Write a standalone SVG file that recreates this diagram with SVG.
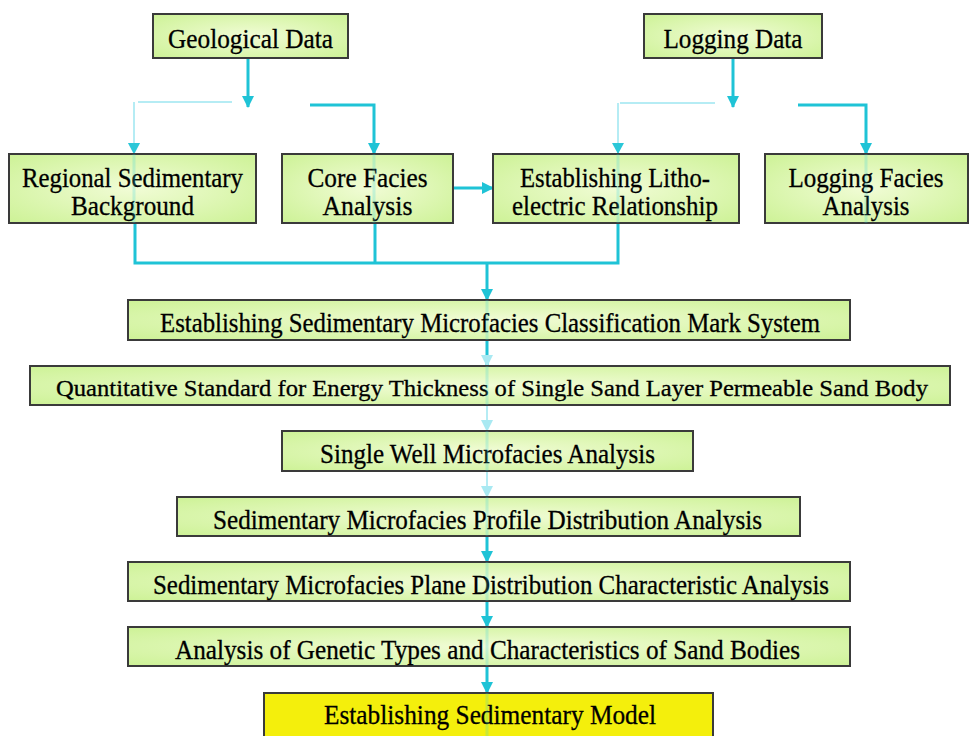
<svg xmlns="http://www.w3.org/2000/svg" width="974" height="736" viewBox="0 0 974 736">
<defs>
<radialGradient id="gf" cx="50%" cy="50%" r="70%">
<stop offset="0" stop-color="#f1fcd6"/>
<stop offset="1" stop-color="#cdf296"/>
</radialGradient>
<marker id="ah" viewBox="0 0 12 12" refX="11" refY="6" markerWidth="12" markerHeight="12" markerUnits="userSpaceOnUse" orient="auto">
<path d="M0,0 L12,6 L0,12 z" fill="#1fc3d6"/>
</marker>
<marker id="ahf" viewBox="0 0 12 12" refX="11" refY="6" markerWidth="12" markerHeight="12" markerUnits="userSpaceOnUse" orient="auto">
<path d="M0,0 L12,6 L0,12 z" fill="#a9e9f2"/>
</marker>
<style>
.box{fill:url(#gf);stroke:#3a3a3a;stroke-width:2}
.ybox{fill:#f4ef0c;stroke:#3a3a3a;stroke-width:2}
.t{font-family:"Liberation Serif","Times New Roman",serif;fill:#000;stroke:#000;stroke-width:0.3;text-anchor:middle}
.big{font-size:28px}
.mid{font-size:27px}
.sm{font-size:24px}
.c{fill:none;stroke:#1fc3d6;stroke-width:3}
.cf{fill:none;stroke:#b5ecf4;stroke-width:2}
.thru{fill:none;stroke:#2fd0e0;stroke-width:3;opacity:0.22}
</style>
</defs>
<rect width="974" height="736" fill="#ffffff"/>

<g id="connectors">
<path class="c" d="M248,58 V107" marker-end="url(#ah)"/>
<path class="cf" d="M138,102 H232"/>
<path class="c" d="M310,105 H374 V154" marker-end="url(#ah)"/>
<path class="cf" d="M134,102 V154" marker-end="url(#ahf)"/>
<path d="M128,143 L140,143 L134,154 z" fill="#2bc7d8"/>
<path class="c" d="M733,58 V107" marker-end="url(#ah)"/>
<path class="cf" d="M620,103 H715"/>
<path class="c" d="M798,105 H866 V154" marker-end="url(#ah)"/>
<path class="cf" d="M618,103 V154"/>
<path d="M612,143 L624,143 L618,154 z" fill="#2bc7d8"/>
<path class="c" d="M453,188 H493" marker-end="url(#ah)"/>
<path class="c" d="M135,223 V263 H618 V223"/>
<path class="c" d="M375,223 V263"/>
<path class="c" d="M487,263 V300" marker-end="url(#ah)"/>
<path class="c" d="M487,340 V366" marker-end="url(#ahf)" stroke="#7fdbe8"/>
<path class="cf" d="M487,405 V431" marker-end="url(#ahf)"/>
<path class="cf" d="M487,471 V497" marker-end="url(#ahf)"/>
<path class="c" d="M487,536 V562" marker-end="url(#ah)"/>
<path class="c" d="M487,601 V627" marker-end="url(#ah)"/>
<path class="c" d="M487,666 V693" marker-end="url(#ah)"/>
</g>

<g id="geological-data"><rect class="box" x="153" y="14" width="195" height="44"/><text class="t big" x="250.5" y="48" textLength="165" lengthAdjust="spacingAndGlyphs">Geological Data</text></g>
<g id="logging-data"><rect class="box" x="644" y="14" width="178" height="44"/><text class="t big" x="733" y="48" textLength="139" lengthAdjust="spacingAndGlyphs">Logging Data</text></g>

<g id="regional"><rect class="box" x="9" y="154" width="247" height="69"/><text class="t big" x="132.5" y="187" textLength="221" lengthAdjust="spacingAndGlyphs">Regional Sedimentary</text><text class="t big" x="132.5" y="215" textLength="123" lengthAdjust="spacingAndGlyphs">Background</text></g>
<g id="core-facies"><rect class="box" x="282" y="154" width="171" height="69"/><text class="t big" x="367.5" y="187" textLength="120" lengthAdjust="spacingAndGlyphs">Core Facies</text><text class="t big" x="367.5" y="215" textLength="90" lengthAdjust="spacingAndGlyphs">Analysis</text></g>
<g id="litho-electric"><rect class="box" x="493" y="154" width="246" height="69"/><text class="t big" x="615" y="187" textLength="190" lengthAdjust="spacingAndGlyphs">Establishing Litho-</text><text class="t big" x="615" y="215" textLength="206" lengthAdjust="spacingAndGlyphs">electric Relationship</text></g>
<g id="logging-facies"><rect class="box" x="765" y="154" width="203" height="69"/><text class="t big" x="866" y="187" textLength="155" lengthAdjust="spacingAndGlyphs">Logging Facies</text><text class="t big" x="866" y="215" textLength="87" lengthAdjust="spacingAndGlyphs">Analysis</text></g>

<g id="classification"><rect class="box" x="128" y="300" width="722" height="40"/><text class="t mid" x="490" y="332" textLength="660" lengthAdjust="spacingAndGlyphs">Establishing Sedimentary Microfacies Classification Mark System</text></g>
<g id="quantitative"><rect class="box" x="30" y="366" width="920" height="39"/><text class="t sm" x="492" y="396" textLength="872" lengthAdjust="spacingAndGlyphs">Quantitative Standard for Energy Thickness of Single Sand Layer Permeable Sand Body</text></g>
<g id="single-well"><rect class="box" x="282" y="431" width="411" height="40"/><text class="t mid" x="487.5" y="463" textLength="335" lengthAdjust="spacingAndGlyphs">Single Well Microfacies Analysis</text></g>
<g id="profile"><rect class="box" x="177" y="497" width="623" height="39"/><text class="t mid" x="487.5" y="529" textLength="549" lengthAdjust="spacingAndGlyphs">Sedimentary Microfacies Profile Distribution Analysis</text></g>
<g id="plane"><rect class="box" x="128" y="562" width="722" height="39"/><text class="t mid" x="491" y="594" textLength="676" lengthAdjust="spacingAndGlyphs">Sedimentary Microfacies Plane Distribution Characteristic Analysis</text></g>
<g id="genetic"><rect class="box" x="128" y="627" width="722" height="39"/><text class="t mid" x="487.5" y="659" textLength="625" lengthAdjust="spacingAndGlyphs">Analysis of Genetic Types and Characteristics of Sand Bodies</text></g>
<g id="model"><rect class="ybox" x="264" y="693" width="449" height="44"/><text class="t mid" x="490" y="724" textLength="332" lengthAdjust="spacingAndGlyphs">Establishing Sedimentary Model</text></g>

<g id="through-lines">
<path class="thru" d="M134,154 V223"/>
<path class="thru" d="M374,154 V223"/>
<path class="thru" d="M618,154 V223"/>
<path class="thru" d="M866,154 V223"/>
<path class="thru" d="M487,300 V340 M487,366 V405 M487,431 V471 M487,497 V536 M487,562 V601 M487,627 V666 M487,693 V736"/>
</g>
</svg>
